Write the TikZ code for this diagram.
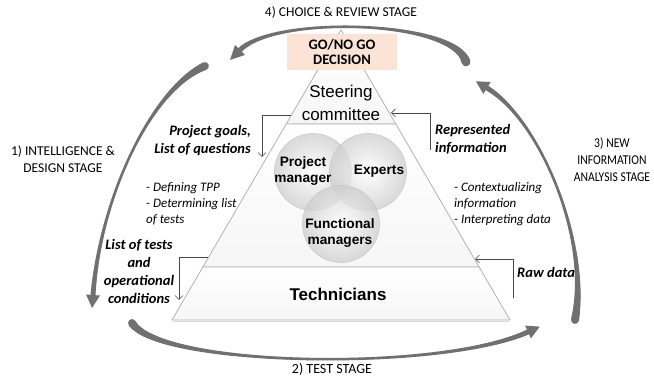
\documentclass[tikz,border=0pt]{standalone}
\usepackage{fontspec}
\setmainfont{Carlito}
\newfontfamily\arialf{Liberation Sans}
\newfontfamily\narrowf[FakeStretch=0.86]{Carlito}
\usetikzlibrary{arrows.meta}
\definecolor{peach}{RGB}{251,228,213}
\definecolor{arrowgray}{RGB}{112,112,112}
\definecolor{pyrline}{RGB}{178,178,178}
\definecolor{brk}{RGB}{70,70,70}

% tapered curved arrow along a cubic Bezier: P0 (tail) .. P1 .. P2 .. P3 (head base)
\newcommand\tarrow[9]{%
\foreach \wa/\wm/\wb/\hl/\hw in {#9}{%
 \foreach \i in {1,...,100}{%
  \pgfmathsetmacro\ta{(\i-1)/100}%
  \pgfmathsetmacro\tb{\i/100}%
  \pgfmathsetmacro\sa{1-\ta}%
  \pgfmathsetmacro\sb{1-\tb}%
  \pgfmathsetmacro\xa{\sa*\sa*\sa*#1+3*\sa*\sa*\ta*#3+3*\sa*\ta*\ta*#5+\ta*\ta*\ta*#7}%
  \pgfmathsetmacro\ya{\sa*\sa*\sa*#2+3*\sa*\sa*\ta*#4+3*\sa*\ta*\ta*#6+\ta*\ta*\ta*#8}%
  \pgfmathsetmacro\xb{\sb*\sb*\sb*#1+3*\sb*\sb*\tb*#3+3*\sb*\tb*\tb*#5+\tb*\tb*\tb*#7}%
  \pgfmathsetmacro\yb{\sb*\sb*\sb*#2+3*\sb*\sb*\tb*#4+3*\sb*\tb*\tb*#6+\tb*\tb*\tb*#8}%
  \pgfmathsetmacro\tm{(\ta+\tb)/2}%
  \pgfmathsetmacro\sm{1-\tm}%
  \pgfmathsetmacro\ww{\wm+(\wa-\wm)*\sm*\sm*\sm*\sm+(\wb-\wm)*\tm*\tm*\tm*\tm}%
  \draw[arrowgray,line width=\ww pt,line cap=round] (\xa,\ya)--(\xb,\yb);
 }%
 \pgfmathsetmacro\dx{#7-#5}%
 \pgfmathsetmacro\dy{#8-#6}%
 \pgfmathsetmacro\dl{veclen(\dx,\dy)}%
 \pgfmathsetmacro\ux{\dx/\dl}%
 \pgfmathsetmacro\uy{\dy/\dl}%
 \pgfmathsetmacro\tipx{#7+\hl*\ux}%
 \pgfmathsetmacro\tipy{#8+\hl*\uy}%
 \pgfmathsetmacro\bax{#7-\hw*\uy}%
 \pgfmathsetmacro\bay{#8+\hw*\ux}%
 \pgfmathsetmacro\bbx{#7+\hw*\uy}%
 \pgfmathsetmacro\bby{#8-\hw*\ux}%
 \fill[arrowgray] (\tipx,\tipy) -- (\bax,\bay) -- (\bbx,\bby) -- cycle;
}}

\begin{document}
\begin{tikzpicture}[x=1pt,y=-1pt,
  stagetxt/.style={font=\fontsize{13.5}{17}\selectfont, align=center, inner sep=0pt},
  boldlbl/.style={font=\fontsize{14.5}{18}\selectfont\bfseries\itshape, inner sep=0pt},
  itlbl/.style={font=\fontsize{13}{15.8}\selectfont\itshape, align=left, inner sep=0pt},
  circtxt/.style={font=\arialf\fontsize{13.7}{16.5}\selectfont\bfseries, align=center, inner sep=0pt},
  tiertxt/.style={font=\arialf\fontsize{17}{23}\selectfont, align=center, inner sep=0pt},
  tier/.style={draw=pyrline, line width=0.8pt, top color=white, bottom color=gray!7},
  bubble/.style={circle, minimum size=77pt, inner sep=0pt, draw=gray!45, line width=0.5pt,
     inner color=white, outer color=gray!40, fill opacity=0.72},
  bracket/.style={draw=brk, line width=0.6pt, -{Straight Barb[length=4pt,width=8pt]}},
  gobox/.style={fill=peach, minimum width=110pt, minimum height=36pt, inner sep=0pt, align=center,
     font=\fontsize{14.5}{15.5}\selectfont\bfseries}
]
\useasboundingbox (0,0) rectangle (654,379);

% curved stage arrows
\tarrow{466}{62}{455}{20}{275}{15}{240}{50}{9/2/5/14/7}
\tarrow{205}{66}{150}{90}{100}{200}{93}{295}{8/2/5/13/7}
\tarrow{132}{323}{160}{367}{440}{372}{528}{332}{8/2/5/13/7}
\tarrow{575}{320}{590}{240}{540}{120}{487}{88}{8/2/5/13/7}

% pyramid
\coordinate (apex) at (341,30);
\coordinate (l1) at (286.2,124);
\coordinate (r1) at (395.8,124);
\coordinate (l2) at (202.9,267);
\coordinate (r2) at (479.1,267);
\coordinate (bl) at (172,320);
\coordinate (br) at (510,320);
\draw[gray!30, line width=1.2pt] (173,321.6) -- (509,321.6);
\path[tier] (apex) -- (r1) -- (l1) -- cycle;
\path[tier] (l1) -- (r1) -- (r2) -- (l2) -- cycle;
\path[tier] (l2) -- (r2) -- (br) -- (bl) -- cycle;

% GO / NO GO box
\node[gobox] (go) at (342,52) {GO/NO GO\\DECISION};

% tier texts
\node[tiertxt] (steer) at (341,103) {Steering\\committee};
\node[tiertxt, font=\arialf\fontsize{17}{23}\selectfont\bfseries] (tech) at (338,294) {Technicians};

% bubbles
\node[bubble] (cpm) at (313,172) {};
\node[bubble] (cex) at (368,172) {};
\node[bubble] (cfm) at (341,224) {};
\node[circtxt] (tpm) at (303,171) {Project\\manager};
\node[circtxt] (tex) at (379,171) {Experts};
\node[circtxt] (tfm) at (340,233) {Functional\\managers};

% stage labels
\node[stagetxt] (s4) at (341,13) {4) CHOICE \& REVIEW STAGE};
\node[stagetxt] (s1) at (63,159) {1) INTELLIGENCE \&\\DESIGN STAGE};
\node[stagetxt, font=\narrowf\fontsize{13.5}{17}\selectfont] (s3) at (612,160) {3) NEW\\INFORMATION\\ANALYSIS STAGE};
\node[stagetxt, font=\fontsize{14}{17}\selectfont] (s2) at (332,369) {2) TEST STAGE};

% side labels
\node[boldlbl, align=right, anchor=east] (goals) at (251,141) {Project goals,\\List of questions};
\node[boldlbl, align=left, anchor=west] (repr) at (435,139) {Represented\\information};
\node[boldlbl, align=center] (lot) at (139,271) {List of tests\\and\\operational\\conditions};
\node[boldlbl, anchor=west] (raw) at (517,272) {Raw data};
\node[itlbl, anchor=west] (def) at (146,204) {- Defining TPP\\- Determining list\\of tests};
\node[itlbl, anchor=west] (ctx) at (454,204) {- Contextualizing\\information\\- Interpreting data};

% bracket connectors
\coordinate (b1s) at (291,115);
\coordinate (b1c) at (262,115);
\coordinate (b1e) at (262,157);
\draw[bracket] (b1s) -- (b1c) -- (b1e);
\coordinate (b2s) at (430,150);
\coordinate (b2c) at (430,113);
\coordinate (b2e) at (391,113);
\draw[bracket] (b2s) -- (b2c) -- (b2e);
\coordinate (b3s) at (208,257);
\coordinate (b3c) at (179,257);
\coordinate (b3e) at (179,300);
\draw[bracket] (b3s) -- (b3c) -- (b3e);
\coordinate (b4s) at (513,298);
\coordinate (b4c) at (513,259);
\coordinate (b4e) at (475,259);
\draw[bracket] (b4s) -- (b4c) -- (b4e);
\end{tikzpicture}
\end{document}
